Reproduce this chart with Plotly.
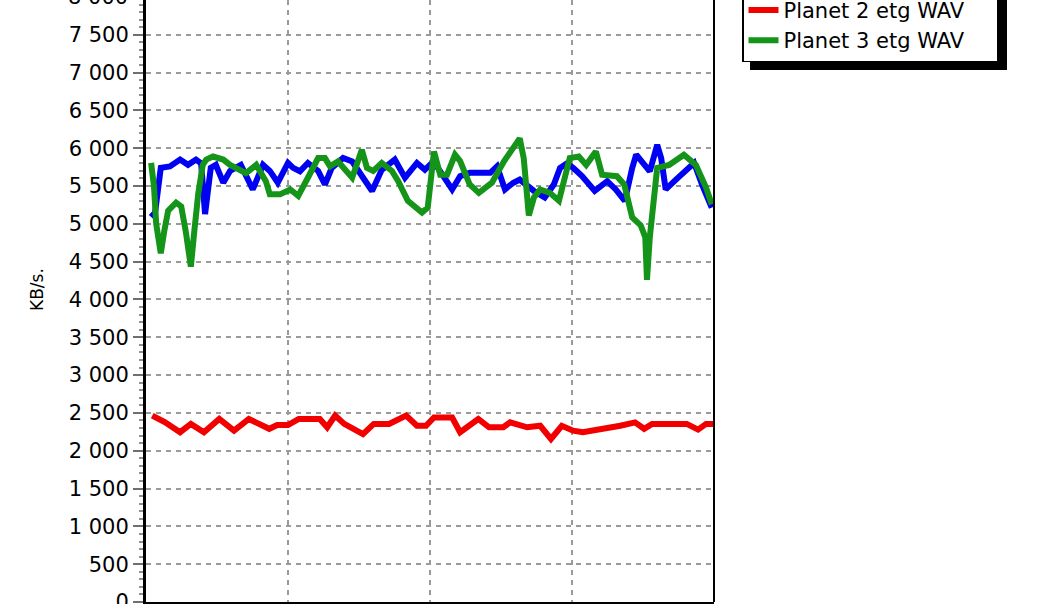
import plotly.graph_objects as go

# ---- data ----
series_names = ["Planet 1 etg WAV", "Planet 2 etg WAV", "Planet 3 etg WAV"]
series_colors = ["#0000f2", "#f20000", "#15941a"]

x_blue = [0.9, 1.6, 2.6, 4.2, 6.0, 7.4, 8.8, 9.7, 10.4, 11.4, 12.3, 13.6, 14.8, 15.8,
          16.7, 18.8, 20.6, 21.8, 23.2, 25.0, 25.9, 27.1, 28.5, 30.3, 31.5, 32.7, 34.7,
          36.3, 38.0, 39.8, 41.5, 43.8, 45.6, 47.7, 49.1, 50.0, 51.2, 52.6, 53.9, 55.3,
          57.0, 60.6, 61.8, 63.2, 64.6, 65.8, 68.3, 70.2, 71.8, 72.9, 74.1, 75.2, 76.8,
          79.0, 81.2, 82.7, 84.3, 85.6, 86.3, 88.7, 90.0, 90.7, 91.5, 93.3, 94.7, 96.5,
          97.9, 99.6]
y_blue = [5090, 5150, 5740, 5760, 5850, 5780, 5850, 5800, 5130, 5740, 5780, 5545, 5700, 5740,
          5780, 5455, 5780, 5700, 5545, 5805, 5740, 5695, 5805, 5700, 5520, 5740, 5870,
          5825, 5650, 5435, 5715, 5850, 5610, 5805, 5715, 5780, 5760, 5610, 5455, 5630,
          5675, 5675, 5760, 5455, 5540, 5585, 5435, 5350, 5520, 5740, 5800, 5740, 5630,
          5435, 5565, 5455, 5305, 5740, 5915, 5695, 6045, 5870, 5455, 5585, 5690, 5805,
          5520, 5215]

x_red = [1.1, 3.3, 6.0, 7.9, 10.2, 12.9, 15.5, 18.1, 21.7, 23.1, 25.0, 26.9, 30.6, 31.9,
         33.3, 34.9, 38.2, 40.1, 42.8, 45.8, 47.7, 49.3, 50.7, 53.9, 55.3, 58.5, 60.4,
         62.9, 64.1, 67.1, 69.4, 71.3, 73.2, 75.2, 76.9, 80.8, 83.5, 86.1, 87.7, 89.1,
         93.3, 95.2, 97.2, 98.6, 100.0]
y_red = [2465, 2380, 2245, 2355, 2245, 2420, 2265, 2420, 2290, 2340, 2340, 2420, 2420, 2310,
         2465, 2355, 2220, 2355, 2355, 2465, 2330, 2330, 2440, 2440, 2245, 2420, 2310,
         2310, 2375, 2310, 2330, 2155, 2330, 2265, 2245, 2290, 2330, 2375, 2290, 2355,
         2355, 2355, 2280, 2355, 2355]

x_green = [0.9, 1.4, 1.8, 2.6, 3.2, 3.9, 5.3, 6.2, 7.0, 7.9, 8.5, 9.2, 10.0, 10.6, 11.8,
           13.6, 14.8, 16.5, 17.6, 19.4, 21.1, 21.8, 23.6, 25.4, 26.8, 28.5, 30.3, 31.5,
           32.4, 33.8, 36.3, 38.0, 38.9, 40.0, 41.5, 43.3, 44.4, 46.1, 48.6, 49.6, 50.4,
           50.7, 51.8, 53.0, 54.4, 55.3, 57.0, 58.6, 60.9, 63.0, 65.8, 66.5, 67.4, 68.3,
           69.4, 71.1, 72.7, 73.6, 74.6, 76.2, 77.5, 79.2, 80.3, 82.9, 84.2, 85.6, 87.1,
           87.9, 88.2, 88.7, 89.4, 90.0, 92.1, 94.7, 96.8, 98.6, 99.6]
y_green = [5805, 5500, 5000, 4610, 4900, 5175, 5280, 5230, 4900, 4435, 4900, 5400, 5780, 5850,
           5890, 5850, 5780, 5715, 5670, 5780, 5565, 5390, 5390, 5455, 5370, 5610, 5870, 5870,
           5760, 5825, 5610, 5980, 5740, 5700, 5805, 5700, 5565, 5305, 5150, 5215, 5870,
           5955, 5650, 5650, 5915, 5830, 5520, 5410, 5545, 5825, 6130, 5870, 5110, 5350,
           5455, 5410, 5305, 5610, 5870, 5890, 5780, 5955, 5650, 5630, 5520, 5085, 4980,
           4825, 4260, 4825, 5410, 5740, 5780, 5915, 5780, 5480, 5260]

y_tick_top_label = "8 000"
y_title = "KB/s."

# ---- figure ----
font_family = "DejaVu Sans, Liberation Sans, Arial, sans-serif"
pad = "\u00a0\u00a0\u00a0\u00a0"

fig = go.Figure()
for name, color, xs, ys in zip(series_names, series_colors,
                               [x_blue, x_red, x_green], [y_blue, y_red, y_green]):
    fig.add_trace(go.Scatter(x=xs, y=ys, name=name + pad, mode="lines",
                             line=dict(color=color, width=6)))

W, H = 1058, 604
L, R, T, B = 146, 344, 0, 2
pw, ph = W - L - R, H - T - B

def px_x(px):
    return (px - L) / pw

def px_y(py):
    return (H - B - py) / ph

fig.update_layout(
    width=W, height=H,
    margin=dict(l=L, r=R, t=T, b=B, autoexpand=False),
    paper_bgcolor="white", plot_bgcolor="white",
    separators=", ",
    font=dict(family=font_family, size=21, color="black"),
    showlegend=True,
    legend=dict(x=px_x(742), y=px_y(62), xanchor="left", yanchor="bottom",
                bgcolor="white", bordercolor="black", borderwidth=1.5,
                font=dict(family=font_family, size=21, color="black"),
                traceorder="normal"),
    xaxis=dict(range=[0, 100], dtick=25, showticklabels=False, ticks="",
               showgrid=True, gridcolor="#9a9a9a", gridwidth=1.5, griddash="5px,5px",
               showline=True, linecolor="black", linewidth=3, zeroline=False),
    yaxis=dict(range=[0, 7960], dtick=500, tickformat=",d",
               showgrid=True, gridcolor="#9a9a9a", gridwidth=1.5, griddash="5px,5px",
               ticks="outside", ticklen=10, tickcolor="#707070", tickwidth=1.5,
               minor=dict(dtick=100, ticks="outside", ticklen=4, tickcolor="#909090",
                          showgrid=False),
               showline=True, linecolor="black", linewidth=3, zeroline=False,
               ticklabeloverflow="allow",
               tickfont=dict(family=font_family, size=21, color="black")),
)

# right border of plot area
fig.add_shape(type="line", xref="paper", yref="paper", x0=1, x1=1, y0=0, y1=1,
              line=dict(color="black", width=2))
# legend drop shadow
fig.add_shape(type="rect", xref="paper", yref="paper",
              x0=px_x(750), x1=px_x(1007), y0=px_y(70), y1=px_y(-60),
              fillcolor="black", line=dict(width=0), layer="below")
# partially visible top tick label
fig.add_annotation(text=y_tick_top_label, xref="paper", yref="paper",
                   x=0, y=px_y(-3), xanchor="right", yanchor="middle",
                   xshift=-16, showarrow=False,
                   font=dict(family=font_family, size=21, color="black"))
# y-axis title
fig.add_annotation(text=y_title, xref="paper", yref="paper",
                   x=px_x(37), y=px_y(290), xanchor="center", yanchor="middle",
                   textangle=-90, showarrow=False,
                   font=dict(family=font_family, size=17, color="black"))

fig.write_html("out.html", config={"displayModeBar": False},
               post_script="document.body.style.margin='0px';")
